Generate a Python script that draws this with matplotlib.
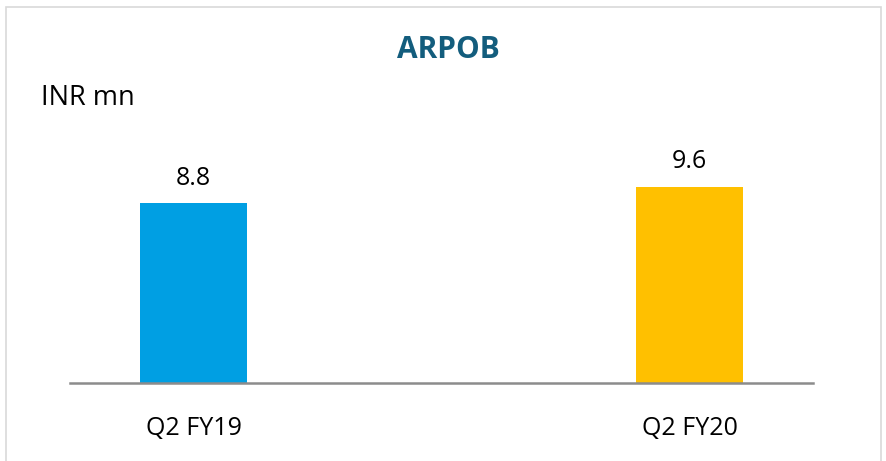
import matplotlib
matplotlib.use("Agg")
import matplotlib.pyplot as plt
from matplotlib.patches import Rectangle

# Data
categories = ["Q2 FY19", "Q2 FY20"]
values = [8.8, 9.6]
bar_colors = ["#009FE3", "#FFC000"]
title = "ARPOB"
unit_label = "INR mn"

plt.rcParams["font.family"] = ["Open Sans", "DejaVu Sans"]

fig = plt.figure(figsize=(8.87, 4.61), dpi=100)

# light frame around the chart area
fig.patches.append(Rectangle((6 / 887, -0.05), 875 / 887, 1.05 - 7 / 461,
                             transform=fig.transFigure, fill=False,
                             edgecolor="#D9D9D9", linewidth=1.2))

ax = fig.add_axes([70 / 887, 78 / 461, 743 / 887, 283 / 461])
x = list(range(len(categories)))
bars = ax.bar(x, values, width=0.2157, color=bar_colors)

ax.set_xlim(-0.249, 1.249)
ax.set_ylim(0, 283 / 20.45)

for b, v in zip(bars, values):
    ax.annotate(f"{v:.1f}", (b.get_x() + b.get_width() / 2, v),
                xytext=(0, 9), textcoords="offset points",
                ha="center", va="bottom", fontsize=18, color="#000000")

ax.set_xticks(x)
ax.set_xticklabels(categories, fontsize=18)
ax.tick_params(axis="x", length=0, pad=24)
ax.set_yticks([])
for s in ["left", "right", "top"]:
    ax.spines[s].set_visible(False)
ax.spines["bottom"].set_color("#8C8C8C")
ax.spines["bottom"].set_linewidth(1.8)

fig.text(448 / 887, 1 - 50 / 461, title, ha="center", va="center",
         fontsize=21.5, fontweight="bold", color="#135D7D")
fig.text(41 / 887, 1 - 98 / 461, unit_label, ha="left", va="center",
         fontsize=19.5, color="#000000")

fig.savefig("out.png", dpi=100)
